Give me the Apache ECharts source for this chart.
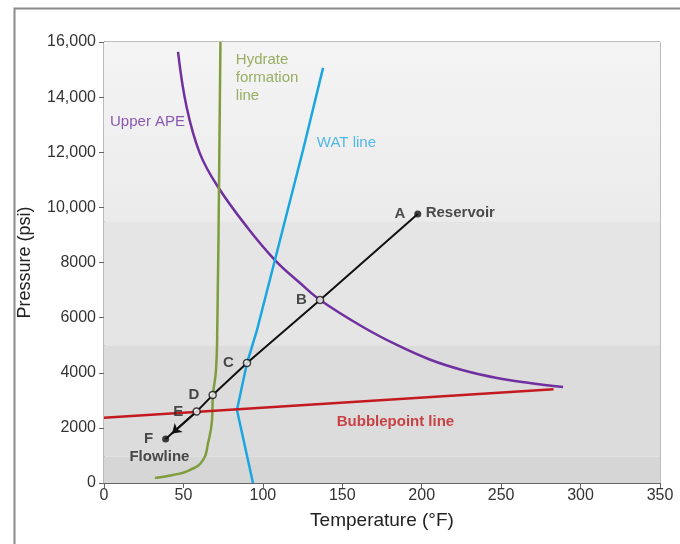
<!DOCTYPE html>
<html>
<head>
<meta charset="utf-8">
<script src="https://cdn.jsdelivr.net/npm/echarts@6/dist/echarts.min.js"></script>
<style>
  html, body { margin: 0; padding: 0; background: #fff; }
  #chart { width: 680px; height: 544px; }
</style>
</head>
<body>
<div id="chart"></div>
<script>
// Upper APE curve (temperature °F, pressure psi)
const apeT = [46.6, 52, 60.4, 71.8, 90, 107.6, 123.4, 136, 163, 184.4, 205, 226, 247.4, 268, 289]
const apeP = [15640, 13640, 11950, 10740, 9290, 8090, 7256, 6640, 5660, 5007, 4480, 4090, 3810, 3630, 3480]

// hydrate formation line
const hydT = [73.3, 72.6, 71.3, 70.5, 68.6, 68, 65.5, 62.3, 54, 43.4, 32]
const hydP = [16000, 11900, 5550, 4100, 3190, 2290, 1450, 830, 470, 290, 180]

// WAT line
const watT = [137.9, 125.3, 107.6, 96.3, 90, 83.7, 93.8]
const watP = [15060, 12080, 8090, 5550, 4350, 2650, 0]

// bubblepoint line
const bubT = [0, 283]
const bubP = [2370, 3400]

// production path A -> F
const pathNames = ['A', 'B', 'C', 'D', 'E', 'F']
const pathT = [197.5, 136, 90, 68.4, 58.3, 38.8]
const pathP = [9760, 6640, 4350, 3190, 2590, 1600]

const xTicks = [0, 50, 100, 150, 200, 250, 300, 350]
const yTicks = [0, 2000, 4000, 6000, 8000, 10000, 12000, 14000, 16000]

const zip = (a, b) => a.map((v, i) => [v, b[i]])

const chart = echarts.init(document.getElementById('chart'))
const font = 'Liberation Sans, Arial, sans-serif'

chart.setOption({
  animation: false,
  textStyle: { fontFamily: font },
  graphic: [{
    type: 'rect', left: 12, top: 6, silent: true,
    shape: { width: 720, height: 620 },
    style: { fill: 'none', stroke: '#8a8a8a', lineWidth: 2 }
  }],
  grid: {
    left: 104, right: 20, top: 42, bottom: 61,
    show: true, borderColor: '#7a7a7a', borderWidth: 1,
    backgroundColor: 'transparent'
  },
  xAxis: {
    type: 'value', min: xTicks[0], max: xTicks[xTicks.length - 1], interval: 50,
    name: 'Temperature (°F)', nameLocation: 'middle', nameGap: 28,
    nameTextStyle: { fontSize: 19, color: '#222' },
    axisLine: { show: true, lineStyle: { color: '#666', width: 1 } },
    axisTick: { show: true, length: 5, lineStyle: { color: '#666' } },
    axisLabel: { fontSize: 16, color: '#333', margin: 5 },
    splitLine: { show: false }
  },
  yAxis: {
    type: 'value', min: yTicks[0], max: yTicks[yTicks.length - 1], interval: 2000,
    name: 'Pressure (psi)', nameLocation: 'middle', nameGap: 70,
    nameTextStyle: { fontSize: 18, color: '#222' },
    axisLine: { show: true, lineStyle: { color: '#666', width: 1 } },
    axisTick: { show: true, length: 5, lineStyle: { color: '#666' } },
    axisLabel: {
      fontSize: 16, color: '#333', margin: 8,
      formatter: v => v >= 10000 ? v.toLocaleString('en-US') : String(v)
    },
    splitLine: { show: false }
  },
  series: [
    // background bands
    {
      type: 'line', data: [], silent: true,
      markArea: {
        silent: true,
        data: [
          [{ yAxis: 9500, itemStyle: { color: new echarts.graphic.LinearGradient(0, 0, 0, 1, [
            { offset: 0, color: '#f4f4f4' }, { offset: 1, color: '#ebebeb' }]) } }, { yAxis: 16000 }],
          [{ yAxis: 5000, itemStyle: { color: '#e5e5e5' } }, { yAxis: 9500 }],
          [{ yAxis: 950, itemStyle: { color: '#dcdcdc' } }, { yAxis: 5000 }],
          [{ yAxis: 0, itemStyle: { color: '#d6d6d6' } }, { yAxis: 950 }]
        ].map(p => [Object.assign({ xAxis: 0 }, p[0]), Object.assign({ xAxis: 350 }, p[1])])
      }
    },
    {
      name: 'Upper APE', type: 'line', smooth: 0.4, showSymbol: false,
      data: zip(apeT, apeP),
      lineStyle: { color: '#7030a0', width: 2.5 }
    },
    {
      name: 'Hydrate', type: 'line', smooth: true, showSymbol: false,
      data: zip(hydT, hydP),
      lineStyle: { color: '#7f9c3e', width: 2.5 }
    },
    {
      name: 'WAT', type: 'line', smooth: false, showSymbol: false,
      data: zip(watT, watP),
      lineStyle: { color: '#1aa6e0', width: 2.5 }
    },
    {
      name: 'Bubblepoint', type: 'line', showSymbol: false,
      data: zip(bubT, bubP),
      lineStyle: { color: '#c41a1f', width: 2.5 }
    },
    {
      name: 'Path', type: 'line', showSymbol: false,
      data: zip(pathT, pathP),
      lineStyle: { color: '#111', width: 2 }
    },
    {
      type: 'lines', coordinateSystem: 'cartesian2d', silent: true,
      symbol: ['none', 'arrow'], symbolSize: 9,
      lineStyle: { color: '#111', width: 2, opacity: 1 },
      data: [{ coords: [[pathT[4], pathP[4]], [42.8, 1800]] }]
    },
    {
      name: 'Points', type: 'scatter', z: 5,
      data: pathNames.map((n, i) => {
        const solid = n === 'A' || n === 'F'
        return {
          name: n, value: [pathT[i], pathP[i]],
          symbolSize: 7,
          itemStyle: solid ? { color: '#111' } : { color: '#fff', borderColor: '#111', borderWidth: 1.5 }
        }
      }),
      label: {
        show: true, position: 'left', distance: 9, formatter: '{b}',
        fontSize: 15, fontWeight: 'bold', color: '#222'
      }
    },
    {
      // text annotations
      type: 'scatter', symbolSize: 0, silent: true, z: 6,
      label: { show: true, position: 'right', distance: 0, formatter: p => p.name, fontSize: 15 },
      data: [
        { name: 'Reservoir', value: [202.5, 9800], label: { fontWeight: 'bold', color: '#222' } },
        { name: 'Flowline', value: [16, 950], label: { fontWeight: 'bold', color: '#222' } },
        { name: 'Upper APE', value: [3.8, 13100], label: { color: '#7030a0' } },
        { name: 'WAT line', value: [134, 12340], label: { color: '#29aae2' } },
        { name: 'Hydrate\nformation\nline', value: [83, 14700], label: { color: '#7f9c3e', lineHeight: 18 } },
        { name: 'Bubblepoint line', value: [146.5, 2210], label: { fontWeight: 'bold', color: '#c41a1f' } }
      ]
    }
  ]
})
</script>
</body>
</html>
